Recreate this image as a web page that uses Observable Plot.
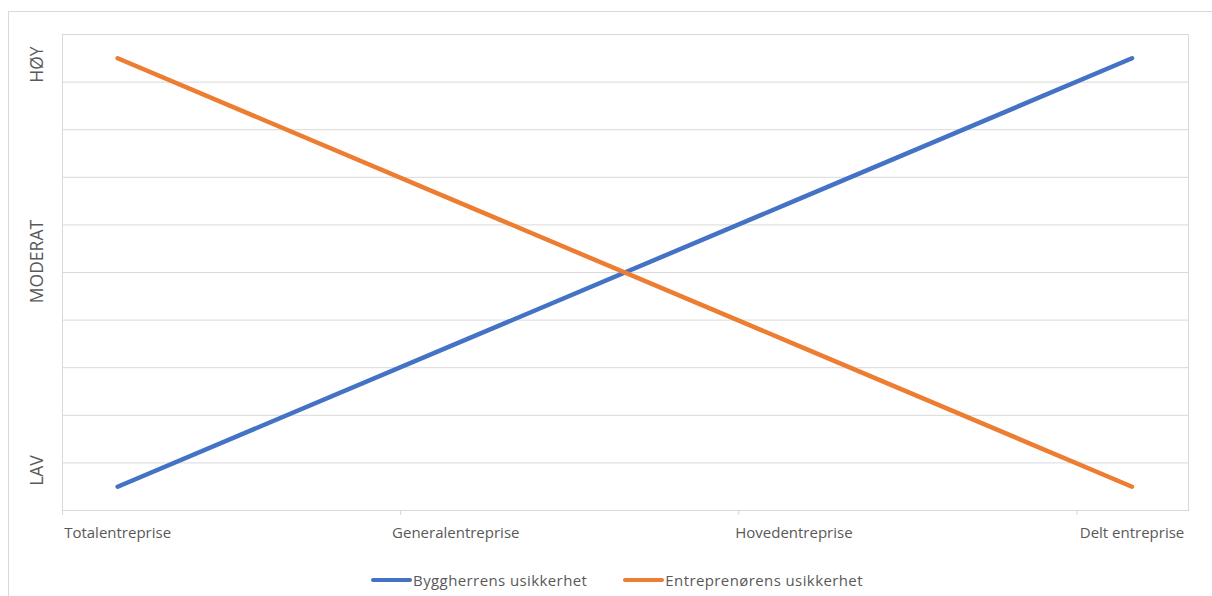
<!DOCTYPE html>
<html>
<head>
<meta charset="utf-8">
<script src="https://cdn.jsdelivr.net/npm/d3@7"></script>
<script src="https://cdn.jsdelivr.net/npm/@observablehq/plot@0.6"></script>
<style>
  html, body { margin: 0; padding: 0; background: #fff; }
  #wrap { position: relative; width: 1212px; height: 596px; overflow: hidden; }
  #frame { position: absolute; left: 8px; top: 11px; right: -2px; bottom: -2px;
           border-top: 1px solid #d9d9d9; border-left: 1px solid #d9d9d9; pointer-events: none; }
  #chart { position: absolute; left: 0; top: 0; }
  #legend { position: absolute; left: 0; top: 570px; width: 1212px; height: 20px;
            display: flex; justify-content: center; align-items: center; gap: 36px;
            font-family: "Open Sans", sans-serif; font-size: 15px; letter-spacing: 0.4px; color: #595959; padding-left: 22px; box-sizing: border-box; }
  .item { display: flex; align-items: center; }
  .sw { width: 41px; height: 4px; border-radius: 2px; margin-right: 1px; }
</style>
</head>
<body>
<div id="wrap">
  <div id="frame"></div>
  <div id="chart"></div>
  <div id="legend"></div>
</div>
<script>
const categories = ["Totalentreprise", "Generalentreprise", "Hovedentreprise", "Delt entreprise"];
const byggherre = [0.5, 3.5, 6.5, 9.5];
const entreprenor = [9.5, 6.5, 3.5, 0.5];
const seriesNames = ["Byggherrens usikkerhet", "Entreprenørens usikkerhet"];
const seriesColors = ["#4472c4", "#ed7d31"];
const levelLabels = ["LAV", "MODERAT", "HØY"];
const levelValues = [0.84, 5.23, 9.37];
const gridValues = d3.range(0, 11);

const data = [
  ...byggherre.map((v, i) => ({i, v, s: seriesNames[0]})),
  ...entreprenor.map((v, i) => ({i, v, s: seriesNames[1]}))
];
const idx = categories.map((_, i) => i);
const tickPos = idx.map(i => i - 0.163);

const chart = Plot.plot({
  width: 1212,
  height: 560,
  marginLeft: 62,
  marginRight: 24,
  marginTop: 34,
  marginBottom: 50,
  style: {fontFamily: "Open Sans, sans-serif", color: "#595959", background: "transparent"},
  x: {type: "linear", domain: [-0.163, 3.167]},
  y: {domain: [0, 10], axis: null},
  color: {domain: seriesNames, range: seriesColors},
  marks: [
    Plot.ruleY(gridValues, {stroke: "#d9d9d9", strokeWidth: 1}),
    Plot.frame({stroke: "#d9d9d9"}),
    Plot.axisX({ticks: tickPos, tickSize: 5, tickFormat: () => "", stroke: "#d9d9d9", strokeOpacity: 1, label: null}),
    Plot.axisX({ticks: idx, tickSize: 0, tickPadding: 17, tickFormat: i => categories[i],
                fontSize: 15, fill: "#595959", label: null}),
    Plot.line(data, {x: "i", y: "v", z: "s", stroke: "s", strokeWidth: 4.5, strokeLinecap: "round", strokeLinejoin: "round"}),
    Plot.text(levelLabels, {y: (d, i) => levelValues[i], text: d => d, frameAnchor: "left", dx: -25,
                            textAnchor: "middle", rotate: -90, fontSize: 17.5, fill: "#595959"})
  ]
});
document.getElementById("chart").appendChild(chart);

const legend = document.getElementById("legend");
seriesNames.forEach((n, k) => {
  const it = document.createElement("div");
  it.className = "item";
  it.innerHTML = `<span class="sw" style="background:${seriesColors[k]}"></span><span>${n}</span>`;
  legend.appendChild(it);
});
</script>
</body>
</html>
